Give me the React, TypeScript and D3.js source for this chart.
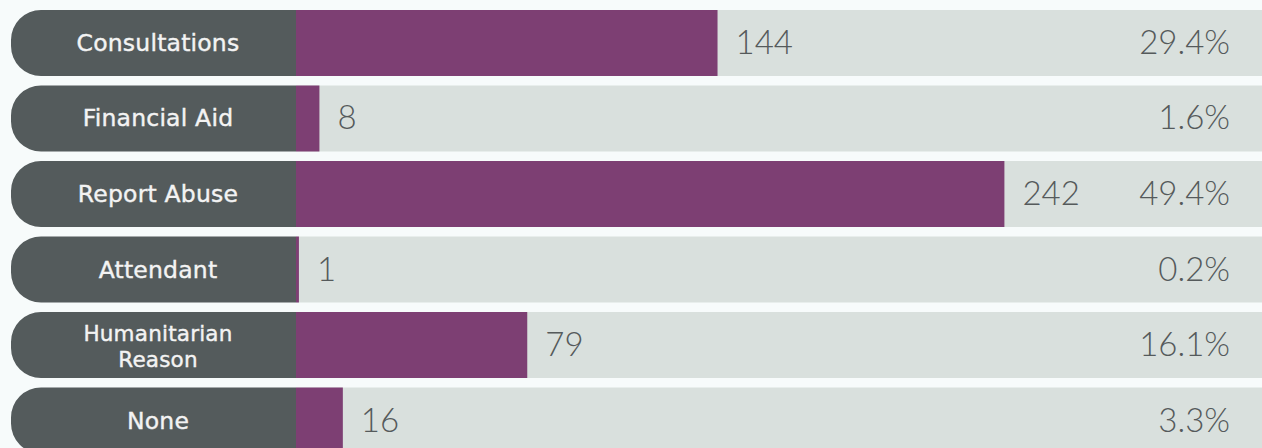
import * as d3 from "d3";

const categories = [
  "Consultations",
  "Financial Aid",
  "Report Abuse",
  "Attendant",
  "Humanitarian Reason",
  "None",
];
const counts = [144, 8, 242, 1, 79, 16];
const shares = ["29.4%", "1.6%", "49.4%", "0.2%", "16.1%", "3.3%"];
// label lines (the long one wraps in two)
const labelLines = [
  ["Consultations"],
  ["Financial Aid"],
  ["Report Abuse"],
  ["Attendant"],
  ["Humanitarian", "Reason"],
  ["None"],
];

const width = 1262;
const height = 448;

const pillLeft = 11;
const trackLeft = 296;
const radius = 30;
const labelX = 158;

const App = () => {
  const y = d3
    .scaleBand<string>()
    .domain(categories)
    .range([10, 453.5])
    .paddingInner(0.126)
    .paddingOuter(0);

  const x = d3.scaleLinear().domain([0, 330]).range([trackLeft, width]);

  const bh = y.bandwidth();

  const pillPath = (top: number) => {
    const p = d3.path();
    p.moveTo(trackLeft, top);
    p.lineTo(pillLeft + radius, top);
    p.arcTo(pillLeft, top, pillLeft, top + radius, radius);
    p.lineTo(pillLeft, top + bh - radius);
    p.arcTo(pillLeft, top + bh, pillLeft + radius, top + bh, radius);
    p.lineTo(trackLeft, top + bh);
    p.closePath();
    return p.toString();
  };

  const numStyle = {
    fill: "#555a5b",
    fontFamily: "Lato, sans-serif",
    fontWeight: 300,
    fontSize: 33,
  };

  return (
    <svg
      width={width}
      height={height}
      style={{ position: "absolute", left: 0, top: 0, background: "#f7fbfb" }}
    >
      {categories.map((c, i) => {
        const top = y(c) ?? 0;
        const cy = top + bh / 2;
        const lines = labelLines[i];
        const two = lines.length > 1;
        return (
          <g key={c}>
            <rect x={trackLeft} y={top} width={width - trackLeft} height={bh} fill="#d9e0dd" />
            <path d={pillPath(top)} fill="#545b5c" />
            <rect x={trackLeft} y={top} width={x(counts[i]) - trackLeft} height={bh} fill="#7d3f73" />
            {lines.map((l, j) => (
              <text
                key={l}
                x={labelX}
                y={two ? cy - 4 + j * 26 : cy + 8}
                textAnchor="middle"
                fill="#f3f3f3"
                stroke="#f3f3f3"
                strokeWidth={0.4}
                fontFamily="'DejaVu Sans', sans-serif"
                fontSize={two ? 21.5 : 23.5}
                letterSpacing={0.2}
              >
                {l}
              </text>
            ))}
            <text x={x(counts[i]) + 18} y={cy + 11} style={numStyle}>
              {counts[i]}
            </text>
            <text x={1230} y={cy + 11} textAnchor="end" style={numStyle}>
              {shares[i]}
            </text>
          </g>
        );
      })}
    </svg>
  );
};

export default App;
